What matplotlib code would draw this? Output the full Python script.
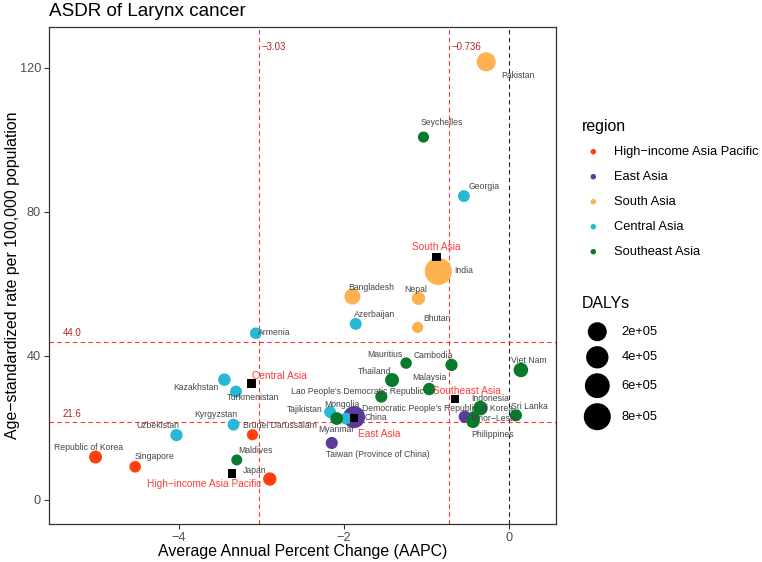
import numpy as np
import matplotlib
matplotlib.use("Agg")
import matplotlib.pyplot as plt

plt.rcParams["font.family"] = ["Liberation Sans", "DejaVu Sans"]

# ---- data -------------------------------------------------------------
regions = ["High−income Asia Pacific", "East Asia", "South Asia",
           "Central Asia", "Southeast Asia"]
region_colors = ["#FF3F0C", "#5B3A9C", "#FDB24F", "#27B8D6", "#087A2C"]

countries = ["Japan", "Republic of Korea", "Singapore", "Brunei Darussalam",
             "China", "Taiwan (Province of China)",
             "Democratic People's Republic of Korea",
             "India", "Pakistan", "Bangladesh", "Nepal", "Bhutan",
             "Kazakhstan", "Uzbekistan", "Kyrgyzstan", "Turkmenistan",
             "Tajikistan", "Mongolia", "Armenia", "Azerbaijan", "Georgia",
             "Seychelles", "Mauritius", "Cambodia", "Viet Nam", "Thailand",
             "Malaysia", "Lao People's Democratic Republic", "Indonesia",
             "Sri Lanka", "Timor−Leste", "Philippines", "Myanmar", "Maldives"]
country_region = [0, 0, 0, 0,
                  1, 1, 1,
                  2, 2, 2, 2, 2,
                  3, 3, 3, 3, 3, 3, 3, 3, 3,
                  4, 4, 4, 4, 4, 4, 4, 4, 4, 4, 4, 4, 4]
aapc = [-2.90, -5.01, -4.53, -3.11,
        -1.88, -2.15, -0.54,
        -0.86, -0.28, -1.90, -1.10, -1.11,
        -3.45, -4.03, -3.34, -3.31, -2.17, -1.98, -3.07, -1.86, -0.55,
        -1.04, -1.25, -0.70, 0.14, -1.42, -0.97, -1.55, -0.35,
        0.08, -0.43, -0.44, -2.09, -3.30]
asdr = [5.8, 11.9, 9.2, 18.1,
        23.0, 15.8, 23.1,
        63.5, 121.7, 56.5, 56.0, 47.9,
        33.4, 18.0, 20.9, 30.1, 24.4, 22.6, 46.3, 48.9, 84.4,
        100.8, 38.0, 37.5, 36.1, 33.3, 30.8, 28.7, 25.5,
        23.5, 23.1, 21.8, 22.6, 11.1]
dalys = [17000, 12000, 1200, 200,
         380000, 4000, 5000,
         820000, 200000, 78000, 17000, 300,
         7000, 5000, 2500, 2500, 2500, 2000, 1500, 3000, 2500,
         150, 800, 5000, 40000, 28000, 6000, 4000, 40000,
         4000, 300, 16000, 10000, 120]

# regional summary points
region_aapc = [-3.36, -1.88, -0.88, -3.12, -0.66]
region_asdr = [7.4, 22.8, 67.5, 32.4, 28.0]

vline_values = [-3.03, -0.736]
hline_values = [44.0, 21.6]
size_breaks = [200000, 400000, 600000, 800000]

# ---- layout -----------------------------------------------------------
W, H = 762, 562
DPI = 100
PT = 72 / DPI

# label offsets in screen pixels (dx right, dy down)
label_offsets = {
    "Japan": (-15, -9), "Republic of Korea": (-7, -10), "Singapore": (19, -10),
    "Brunei Darussalam": (27, -9), "China": (22, 0),
    "Taiwan (Province of China)": (46, 11),
    "Democratic People's Republic of Korea": (-27, -8),
    "India": (25, -1), "Pakistan": (32, 14), "Bangladesh": (19, -9),
    "Nepal": (-3, -9), "Bhutan": (19, -9), "Kazakhstan": (-29, 8),
    "Uzbekistan": (-19, -10), "Kyrgyzstan": (-18, -10),
    "Turkmenistan": (17, 6), "Tajikistan": (-25, -3), "Mongolia": (-4, -14),
    "Armenia": (18, -1), "Azerbaijan": (19, -9), "Georgia": (20, -10),
    "Seychelles": (18, -15), "Mauritius": (-21, -9), "Cambodia": (-18, -9),
    "Viet Nam": (8, -9), "Thailand": (-18, -9), "Malaysia": (0, -12),
    "Lao People's Democratic Republic": (-24, -5), "Indonesia": (10, -10),
    "Sri Lanka": (13, -9), "Timor−Leste": (20, 2), "Philippines": (20, 13),
    "Myanmar": (0, 11), "Maldives": (19, -9),
}
region_label_offsets = [(-28, 11), (25, 16), (0, -10), (28, -7), (12, -8)]

dmin, dmax = min(dalys), max(dalys)


def diam_px(v):
    return 11 + 16.2 * np.sqrt((np.asarray(v, float) - dmin) / (dmax - dmin))


def marker_area(v):
    return (diam_px(v) * PT) ** 2


fig = plt.figure(figsize=(W / DPI, H / DPI), dpi=DPI)
ax = fig.add_axes([49.3 / W, 1 - 524 / H, (556 - 49.3) / W, (524 - 27.3) / H])

x = np.array(aapc)
y = np.array(asdr)
reg = np.array(country_region)
d = np.array(dalys)

for i, r in enumerate(regions):
    m = reg == i
    ax.scatter(x[m], y[m], s=marker_area(d[m]), color=region_colors[i],
               edgecolors="none", zorder=3)

ax.scatter(region_aapc, region_asdr, marker="s", s=(8.5 * PT) ** 2,
           color="black", edgecolors="none", zorder=4)

for xv in vline_values:
    ax.axvline(xv, color="#FF3333", ls=(0, (4, 3)), lw=0.8, zorder=2)
    ax.annotate(f"{xv:g}".replace("-", "−"), (xv, 1), xycoords=("data", "axes fraction"),
                xytext=(2, -14), textcoords="offset points", ha="left", va="center",
                fontsize=6.9, color="#B22222")
ax.axvline(0, color="#222222", ls=(0, (4, 3)), lw=0.8, zorder=2)
for yv in hline_values:
    ax.axhline(yv, color="#FF3333", ls=(0, (4, 3)), lw=0.8, zorder=2)
    ax.annotate(f"{yv:.1f}", (-5.41, yv), xytext=(0, 6), textcoords="offset points",
                ha="left", va="center", fontsize=6.9, color="#B22222")

for name, xi, yi in zip(countries, aapc, asdr):
    dx, dy = label_offsets[name]
    ax.annotate(name, (xi, yi), xytext=(dx * PT, -dy * PT), textcoords="offset points",
                ha="center", va="center", fontsize=6.2, color="#444444", zorder=5)

for i, r in enumerate(regions):
    dx, dy = region_label_offsets[i]
    ax.annotate(r, (region_aapc[i], region_asdr[i]), xytext=(dx * PT, -dy * PT),
                textcoords="offset points", ha="center", va="center",
                fontsize=7.3, color="#FF3B3B", zorder=5)

ax.set_xlim(-5.57, 0.565)
ax.set_ylim(-6.7, 131.3)
ax.set_xticks([-4, -2, 0])
ax.set_xticklabels(["−4", "−2", "0"])
ax.set_yticks([0, 40, 80, 120])
ax.tick_params(labelsize=9.2, labelcolor="#4D4D4D", color="#333333",
               length=3.5, width=0.8, pad=2.5)
for sp in ax.spines.values():
    sp.set_color("#333333")
    sp.set_linewidth(0.9)

ax.set_xlabel("Average Annual Percent Change (AAPC)", fontsize=11.4, labelpad=-0.5)
ax.set_ylabel("Age−standardized rate per 100,000 population", fontsize=11.4,
              labelpad=0)
fig.text(49.3 / W, 1 - 11 / H, "ASDR of Larynx cancer", fontsize=13.6,
         ha="left", va="center")

# ---- legends (drawn on a pixel-coordinate overlay) ----------------------
lax = fig.add_axes([0, 0, 1, 1], facecolor="none")
lax.set_xlim(0, W)
lax.set_ylim(H, 0)
lax.axis("off")

lax.text(582, 126, "region", fontsize=11.4, ha="left", va="center")
for i, r in enumerate(regions):
    yy = 151.7 + 25 * i
    lax.scatter([593.3], [yy], s=(5.5 * PT) ** 2, color=region_colors[i],
                edgecolors="none")
    lax.text(614.3, yy, r, fontsize=9.3, ha="left", va="center")

lax.text(582, 304, "DALYs", fontsize=11.4, ha="left", va="center")
key_y = [331.7, 357.3, 385.7, 416.7]
for b, yy in zip(size_breaks, key_y):
    lax.scatter([597.3], [yy], s=marker_area(b), color="black", edgecolors="none")
    lax.text(621.7, yy, f"{b:.0e}", fontsize=9.3, ha="left", va="center")

fig.savefig("out.png", dpi=DPI)
